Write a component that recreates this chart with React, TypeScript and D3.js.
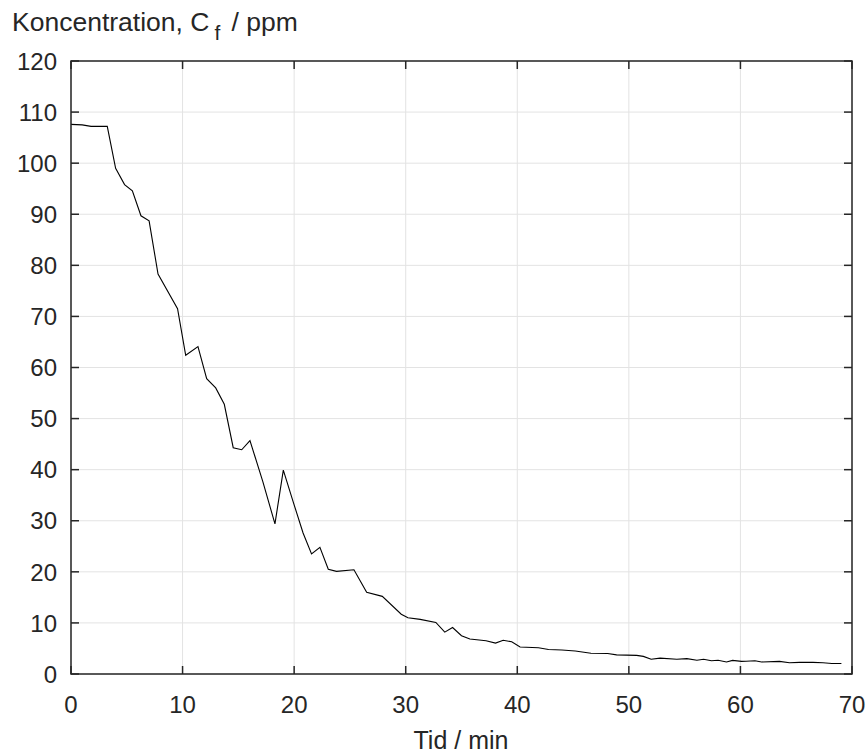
import React from "react";
import * as d3 from "d3";

const times = [0, 1.0, 1.8, 3.25, 4.0, 4.8, 5.5, 6.27, 7.0, 7.8, 9.55, 10.28, 11.38, 12.16, 12.97, 13.74, 14.54, 15.3, 16.04, 17.2, 18.28, 19.03, 19.9, 20.8, 21.56, 22.31, 23.06, 23.8, 25.36, 26.5, 27.9, 29.6, 30.2, 31.3, 32.7, 33.5, 34.2, 35.0, 35.75, 37.2, 38.05, 38.74, 39.5, 40.25, 41.9, 42.8, 44.0, 45.2, 46.6, 48.1, 48.9, 50.7, 51.3, 52.0, 52.8, 54.3, 55.2, 56.1, 56.7, 57.4, 58.0, 58.75, 59.3, 60.1, 60.5, 61.3, 61.9, 63.5, 64.4, 65.3, 66.5, 67.4, 68.2, 69.05];
const conc = [107.6, 107.5, 107.2, 107.2, 99.0, 95.8, 94.6, 89.7, 88.7, 78.3, 71.5, 62.4, 64.1, 57.8, 56.0, 52.8, 44.3, 43.9, 45.7, 37.6, 29.4, 39.9, 33.8, 27.6, 23.5, 24.8, 20.5, 20.1, 20.4, 16.0, 15.2, 11.7, 11.0, 10.7, 10.1, 8.2, 9.1, 7.5, 6.85, 6.5, 6.05, 6.6, 6.3, 5.3, 5.15, 4.8, 4.7, 4.5, 4.05, 4.0, 3.75, 3.65, 3.45, 2.9, 3.1, 2.9, 3.0, 2.7, 2.9, 2.6, 2.7, 2.35, 2.66, 2.47, 2.5, 2.6, 2.35, 2.47, 2.2, 2.27, 2.27, 2.2, 2.07, 2.07];
const xTicks = [0, 10, 20, 30, 40, 50, 60, 70];
const yTicks = [0, 10, 20, 30, 40, 50, 60, 70, 80, 90, 100, 110, 120];

const W = 868;
const H = 756;
const L = 71, R = 852, T = 61, B = 674;
const FONT = "'Liberation Sans', Arial, Helvetica, sans-serif";
const AX = "#262626";

export default function App() {
  const x = d3.scaleLinear().domain([0, 70]).range([L, R]);
  const y = d3.scaleLinear().domain([0, 120]).range([B, T]);
  const pts = times.map((t, i) => [t, conc[i]] as [number, number]);
  const line = d3.line<[number, number]>().x(d => x(d[0])).y(d => y(d[1]));
  const tl = 8;
  return (
    <svg width={W} height={H} style={{ position: "absolute", left: 0, top: 0, background: "#fff" }}>
      <rect x={0} y={0} width={W} height={H} fill="#fff" />
      {xTicks.map(t => (
        <line key={"gx" + t} x1={x(t)} x2={x(t)} y1={T} y2={B} stroke="#e3e3e3" strokeWidth={1} />
      ))}
      {yTicks.map(t => (
        <line key={"gy" + t} x1={L} x2={R} y1={y(t)} y2={y(t)} stroke="#e3e3e3" strokeWidth={1} />
      ))}
      <path d={line(pts) || ""} fill="none" stroke="#000" strokeWidth={1.1} />
      <rect x={L} y={T} width={R - L} height={B - T} fill="none" stroke={AX} strokeWidth={1.5} />
      {xTicks.map(t => (
        <g key={"tx" + t}>
          <line x1={x(t)} x2={x(t)} y1={B} y2={B - tl} stroke={AX} strokeWidth={1.5} />
          <line x1={x(t)} x2={x(t)} y1={T} y2={T + tl} stroke={AX} strokeWidth={1.5} />
          <text x={x(t)} y={713} textAnchor="middle" fontFamily={FONT} fontSize={24} fill={AX}>{t}</text>
        </g>
      ))}
      {yTicks.map(t => (
        <g key={"ty" + t}>
          <line x1={L} x2={L + tl} y1={y(t)} y2={y(t)} stroke={AX} strokeWidth={1.5} />
          <line x1={R} x2={R - tl} y1={y(t)} y2={y(t)} stroke={AX} strokeWidth={1.5} />
          <text x={57} y={y(t) + 8.7} textAnchor="end" fontFamily={FONT} fontSize={24} fill={AX}>{t}</text>
        </g>
      ))}
      <text x={461} y={749} textAnchor="middle" fontFamily={FONT} fontSize={25} fill={AX}>Tid / min</text>
      <text x={12} y={31} fontFamily={FONT} fontSize={26.5} fill={AX}>
        Koncentration, C<tspan dx={5} dy={9} fontSize={21}>f</tspan><tspan dx={4} dy={-9}> / ppm</tspan>
      </text>
    </svg>
  );
}
